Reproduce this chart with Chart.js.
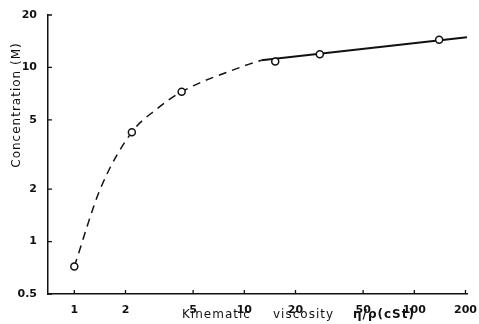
<!DOCTYPE html>
<html lang="en">
<head>
    <meta charset="UTF-8">
    <title>Concentration vs kinematic viscosity</title>
    <script src="https://cdn.jsdelivr.net/npm/chart.js@4.4.0/dist/chart.umd.min.js"></script>
    <style>
        * { margin: 0; padding: 0; }
        body { background: #fff; width: 479px; height: 324px; overflow: hidden; }
        #wrap { width: 479px; height: 324px; }
    </style>
</head>
<body>
    <div id="wrap"><canvas id="chart"></canvas></div>

    <script>
        // measured points (open circles)
        const viscosity = [1, 2.18, 4.28, 15.2, 27.8, 140];
        const concentration = [0.72, 4.25, 7.25, 10.8, 11.9, 14.4];

        // dashed curve
        const dashX = [1, 1.42, 2.18, 3.06, 4.28, 9.7, 12.6];
        const dashY = [0.72, 2.0, 4.25, 5.78, 7.25, 10.1, 11.0];

        // solid line
        const solidX = [12.6, 204];
        const solidY = [11.0, 14.9];

        const xTicks = [1, 2, 5, 10, 20, 50, 100, 200];
        const yTicks = [0.5, 1, 2, 5, 10, 20];

        const ink = '#111';
        const tickFont = { family: 'DejaVu Sans', size: 11, weight: 'bold' };

        const pts = (xs, ys) => xs.map((x, i) => ({ x: x, y: ys[i] }));

        // axis titles + inward tick marks
        const decor = {
            id: 'decor',
            afterDraw(chart) {
                const ctx = chart.ctx;
                const a = chart.chartArea;
                const xs = chart.scales.x, ys = chart.scales.y;
                ctx.save();
                ctx.strokeStyle = ink;
                ctx.lineWidth = 1.3;
                ctx.beginPath();
                xTicks.forEach(v => {
                    const px = xs.getPixelForValue(v);
                    ctx.moveTo(px, a.bottom);
                    ctx.lineTo(px, a.bottom - 4);
                });
                yTicks.forEach(v => {
                    const py = ys.getPixelForValue(v);
                    ctx.moveTo(a.left, py);
                    ctx.lineTo(a.left + 4, py);
                });
                ctx.stroke();

                ctx.fillStyle = ink;
                ctx.font = '12px "DejaVu Sans"';
                ctx.letterSpacing = '1px';
                ctx.textBaseline = 'middle';
                ctx.textAlign = 'center';
                ctx.save();
                ctx.translate(17, 105);
                ctx.rotate(-Math.PI / 2);
                ctx.fillText('Concentration (M)', 0, 0);
                ctx.restore();

                ctx.textAlign = 'left';
                ctx.fillText('Kinematic', 182, 315);
                ctx.fillText('viscosity', 273, 315);
                ctx.font = 'bold 12px "DejaVu Sans"';
                ctx.fillText('\u03b7/\u03c1(cSt)', 353, 315);
                ctx.restore();
            }
        };

        new Chart(document.getElementById('chart'), {
            type: 'scatter',
            data: {
                datasets: [{
                    label: 'measured',
                    data: pts(viscosity, concentration),
                    pointRadius: 3.5,
                    pointBorderWidth: 1.5,
                    pointBackgroundColor: '#fff',
                    pointBorderColor: ink,
                    showLine: false
                }, {
                    label: 'dashed',
                    data: pts(dashX, dashY),
                    showLine: true,
                    borderColor: ink,
                    borderWidth: 1.5,
                    borderDash: [8, 6],
                    cubicInterpolationMode: 'monotone',
                    pointRadius: 0
                }, {
                    label: 'solid',
                    data: pts(solidX, solidY),
                    showLine: true,
                    borderColor: ink,
                    borderWidth: 2,
                    pointRadius: 0
                }]
            },
            options: {
                responsive: true,
                maintainAspectRatio: false,
                animation: false,
                layout: { padding: { top: 15, right: 9, left: 0, bottom: 0 } },
                plugins: {
                    legend: { display: false },
                    tooltip: { enabled: false }
                },
                scales: {
                    x: {
                        type: 'logarithmic',
                        min: 0.7,
                        max: 205,
                        grid: { display: false },
                        border: { color: ink, width: 1.5 },
                        afterBuildTicks: s => { s.ticks = xTicks.map(v => ({ value: v })); },
                        afterFit: s => { s.height = 30; },
                        ticks: {
                            autoSkip: false,
                            maxRotation: 0,
                            padding: 2,
                            color: ink,
                            font: tickFont,
                            callback: v => String(v)
                        }
                    },
                    y: {
                        type: 'logarithmic',
                        min: 0.5,
                        max: 20,
                        grid: { display: false },
                        border: { color: ink, width: 1.5 },
                        afterBuildTicks: s => { s.ticks = yTicks.map(v => ({ value: v })); },
                        afterFit: s => { s.width = 48; },
                        ticks: {
                            autoSkip: false,
                            padding: 3,
                            color: ink,
                            font: tickFont,
                            callback: v => String(v)
                        }
                    }
                }
            },
            plugins: [decor]
        });
    </script>
</body>
</html>
